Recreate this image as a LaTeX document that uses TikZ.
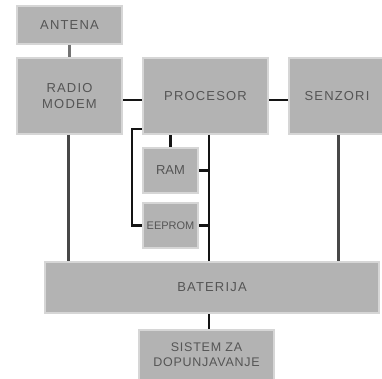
\documentclass[tikz,border=0pt]{standalone}
\usepackage{fontspec}
\setmainfont{Liberation Sans}
\definecolor{boxfill}{RGB}{179,179,179}
\definecolor{boxedge}{RGB}{214,214,214}
\definecolor{txt}{RGB}{85,85,85}
\begin{document}
\begin{tikzpicture}[x=1pt,y=-1pt,
  blk/.style={draw=boxedge, line width=2pt, fill=boxfill, anchor=north west,
    inner sep=0pt, align=center, text=txt,
    font=\fontsize{13}{16}\selectfont\addfontfeature{LetterSpace=9}},
  wire/.style={line width=2.8pt, draw=black!92},
  gwire/.style={line width=3pt, draw=black!72},
  lwire/.style={line width=3pt, draw=black!55}]
\useasboundingbox (0,0) rectangle (382,379);
\node[blk, minimum width=105pt, minimum height=38pt] (ant) at (16,5) {ANTENA};
\node[blk, minimum width=105pt, minimum height=76pt] (radio) at (16,57) {RADIO\\MODEM};
\node[blk, minimum width=125pt, minimum height=76pt] (proc) at (142,57) {PROCESOR};
\node[blk, minimum width=96pt, minimum height=76pt] (senz) at (288,57) {SENZORI};
\node[blk, minimum width=55pt, minimum height=45pt, font=\fontsize{13}{15}\selectfont] (ram) at (142,147) {RAM};
\node[blk, minimum width=55pt, minimum height=45pt, font=\fontsize{11}{13}\selectfont] (eeprom) at (142,202) {EEPROM};
\node[blk, minimum width=334pt, minimum height=51pt] (bat) at (44,261) {BATERIJA};
\node[blk, minimum width=135pt, minimum height=50pt, font=\fontsize{12.5}{15}\selectfont\addfontfeature{LetterSpace=6}] (sis) at (138,329) {SISTEM ZA\\DOPUNJAVANJE};
\coordinate (busx) at (209,0);
% connectors
\draw[lwire] (ant) -- (radio);
\draw[wire] ([yshift=-4pt]radio.east) -- ([yshift=-4pt]proc.west);
\draw[wire] ([yshift=-4pt]proc.east) -- ([yshift=-4pt]senz.west);
\draw[wire] (ram.north) -- (ram.north |- proc.south);
\draw[wire] ([yshift=6pt]proc.south west) -| ([xshift=-10pt]eeprom.west) -- (eeprom.west);
\draw[wire] (proc.south -| busx) -- (bat.north -| busx);
\draw[wire] (ram.east) -- (ram.east -| busx);
\draw[wire] (eeprom.east) -- (eeprom.east -| busx);
\draw[gwire] ([xshift=-1pt]radio.south) -- ([xshift=-1pt]radio.south |- bat.north);
\draw[gwire] ([xshift=1.5pt]senz.south) -- ([xshift=1.5pt]senz.south |- bat.north);
\draw[wire] (bat.south -| busx) -- (sis.north -| busx);
\end{tikzpicture}
\end{document}
